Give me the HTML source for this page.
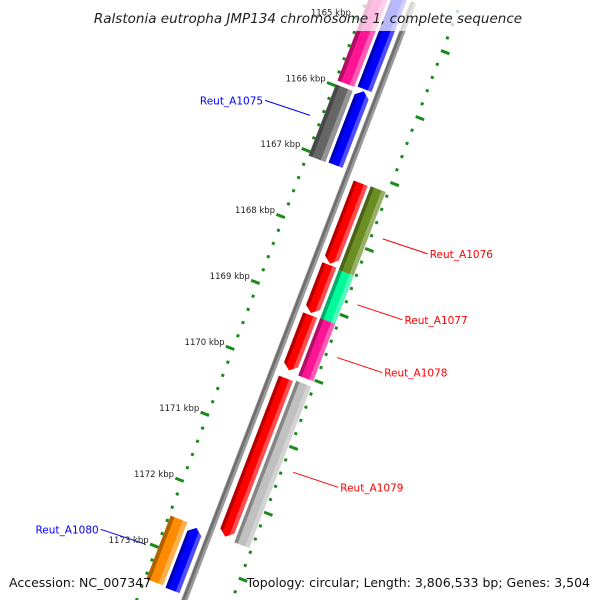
<!DOCTYPE html>
<html><head><meta charset="utf-8"><style>
html,body{margin:0;padding:0;background:#fff;width:600px;height:600px;overflow:hidden}
svg{display:block}
text{font-family:"DejaVu Sans","Liberation Sans",sans-serif}
</style></head><body>
<svg id="map" width="600" height="600" viewBox="0 0 600 600" xmlns="http://www.w3.org/2000/svg">
<defs id="defs"></defs>
<g id="track" transform="matrix(0.934,0.358,-0.358,0.934,325,233)"></g>
<rect x="95" y="0" width="425" height="31" fill="#fff" opacity="0.72"/>
<text x="308" y="23" text-anchor="middle" font-size="13.5" font-style="italic" fill="#222">Ralstonia eutropha JMP134 chromosome 1, complete sequence</text>
<g id="labels"></g>
<g id="ticklabels"></g>
<text x="9" y="587" font-size="12.5" fill="#111">Accession: NC_007347</text>
<text x="590" y="587" text-anchor="end" font-size="12.5" fill="#111">Topology: circular; Length: 3,806,533 bp; Genes: 3,504</text>
</svg>
<script>
const geneStarts = [1164.0, 1165.98, 1164.0, 1165.93, 1167.16, 1168.40, 1169.16, 1170.12, 1167.15, 1168.42, 1169.15, 1170.10, 1172.52, 1172.55];
const geneEnds   = [1165.92, 1167.06, 1165.90, 1167.05, 1168.38, 1169.13, 1170.00, 1172.52, 1168.42, 1169.15, 1170.02, 1172.55, 1173.48, 1173.50];
const geneLanes  = [-2, -2, -1, -1, 1, 1, 1, 1, 2, 2, 2, 2, -2, -1];
const geneStrand = [0, 0, 0, -1, 1, 1, 1, 1, 0, 0, 0, 0, 0, -1];
const geneColors = ["#ff1493","#666666","#0000ff","#0000ff","#ff0000","#ff0000","#ff0000","#ff0000","#6b8e23","#00fa9a","#ff1493","#c0c0c0","#ff8c00","#0000ff"];
const tickMajors = [1165,1166,1167,1168,1169,1170,1171,1172,1173];
const tickLabels = ["1165 kbp","1166 kbp","1167 kbp","1168 kbp","1169 kbp","1170 kbp","1171 kbp","1172 kbp","1173 kbp"];
const labelNames = ["Reut_A1075","Reut_A1076","Reut_A1077","Reut_A1078","Reut_A1079","Reut_A1080"];
const labelGene  = [1, 8, 9, 10, 11, 13];
const labelColors= ["#0000ff","#ff0000","#ff0000","#ff0000","#ff0000","#0000ff"];

const NS="http://www.w3.org/2000/svg";
const PX_PER_KBP=70.6, REF=1168, O=[325,233], C=0.934, S=0.358;
function uOf(k){return (k-REF)*PX_PER_KBP;}
function toScreen(v,u){return [O[0]+C*v-S*u, O[1]+S*v+C*u];}
const laneV={"-2":[-43,-25],"-1":[-22,-7],"1":[8,23],"2":[26,42]};
const track=document.getElementById('track');
const defs=document.getElementById('defs');
function mk(tag,attrs,parent){const e=document.createElementNS(NS,tag);for(const k in attrs)e.setAttribute(k,attrs[k]);parent.appendChild(e);return e;}
function shade(hex,f){const n=parseInt(hex.slice(1),16);let r=n>>16,g=(n>>8)&255,b=n&255;
 if(f<0){r*=1+f;g*=1+f;b*=1+f;}else{r+=(255-r)*f;g+=(255-g)*f;b+=(255-b)*f;}
 return "rgb("+Math.round(r)+","+Math.round(g)+","+Math.round(b)+")";}

for(let i=0;i<geneStarts.length;i++){
  const [vL,vR]=laneV[geneLanes[i]];
  const u0=uOf(geneStarts[i]), u1=uOf(geneEnds[i]);
  const gid='gg'+i;
  const gr=mk('linearGradient',{id:gid,x1:0,y1:0,x2:1,y2:0},defs);
  const c=geneColors[i];
  mk('stop',{offset:0,'stop-color':shade(c,-0.3)},gr);
  mk('stop',{offset:0.22,'stop-color':shade(c,-0.3)},gr);
  mk('stop',{offset:0.23,'stop-color':c},gr);
  mk('stop',{offset:0.72,'stop-color':c},gr);
  mk('stop',{offset:0.73,'stop-color':shade(c,0.3)},gr);
  mk('stop',{offset:1,'stop-color':shade(c,0.3)},gr);
  const vm=(vL+vR)/2, a=6;
  let d;
  if(geneStrand[i]===1) d=`M${vL},${u0}L${vR},${u0}L${vR},${u1-a}L${vm},${u1}L${vL},${u1-a}Z`;
  else if(geneStrand[i]===-1) d=`M${vm},${u0}L${vR},${u0+a}L${vR},${u1}L${vL},${u1}L${vL},${u0+a}Z`;
  else d=`M${vL},${u0}L${vR},${u0}L${vR},${u1}L${vL},${u1}Z`;
  const p=mk('path',{d:d,fill:'url(#'+gid+')'},track);
  
  
}

const bb=mk('line',{x1:0,y1:uOf(1164.5),x2:0,y2:uOf(1173.8),stroke:'#999','stroke-width':6},track);


const bb2=mk('line',{x1:-1,y1:uOf(1164.5),x2:-1,y2:uOf(1173.8),stroke:'#6e6e6e','stroke-width':2.5},track);



for(let t=11644;t<=11738;t+=2){
  const k=t/10, u=uOf(k), major=(t%10===0);
  [-1,1].forEach((side)=>{
    const r=mk('rect',major?{x:side<0?-52:43,y:u-1.5,width:9,height:3,fill:'#1a8a1a'}:{x:side<0?-46:43,y:u-1.5,width:3,height:3,fill:'#1a8a1a'},track);
    
    
  });
}
const tl=document.getElementById('ticklabels');
for(let i=0;i<tickMajors.length;i++){
  const [x,y]=toScreen(-47,uOf(tickMajors[i]));
  const t=mk('text',{x:(x-6).toFixed(1),y:(y-3).toFixed(1),'text-anchor':'end','font-size':8.5,fill:'#222'},tl);
  t.textContent=tickLabels[i];
  
  
}

const lg=document.getElementById('labels');
for(let i=0;i<labelNames.length;i++){
  const g=labelGene[i];
  const lane=geneLanes[g];
  const um=(uOf(geneStarts[g])+uOf(geneEnds[g]))/2;
  const right=lane>0;
  const [ax,ay]=toScreen(right?56:-56,um);
  const ex=right?ax+45:ax-45, ey=right?ay+15:ay-15;
  const ln=mk('line',{x1:ax,y1:ay,x2:ex,y2:ey,stroke:labelColors[i],'stroke-width':1},lg);
  
  
  const t=mk('text',{x:right?ex+2:ex-2,y:ey+4,'text-anchor':right?'start':'end','font-size':10.5,fill:labelColors[i]},lg);
  t.textContent=labelNames[i];
  
  
}
</script>
</body></html>
